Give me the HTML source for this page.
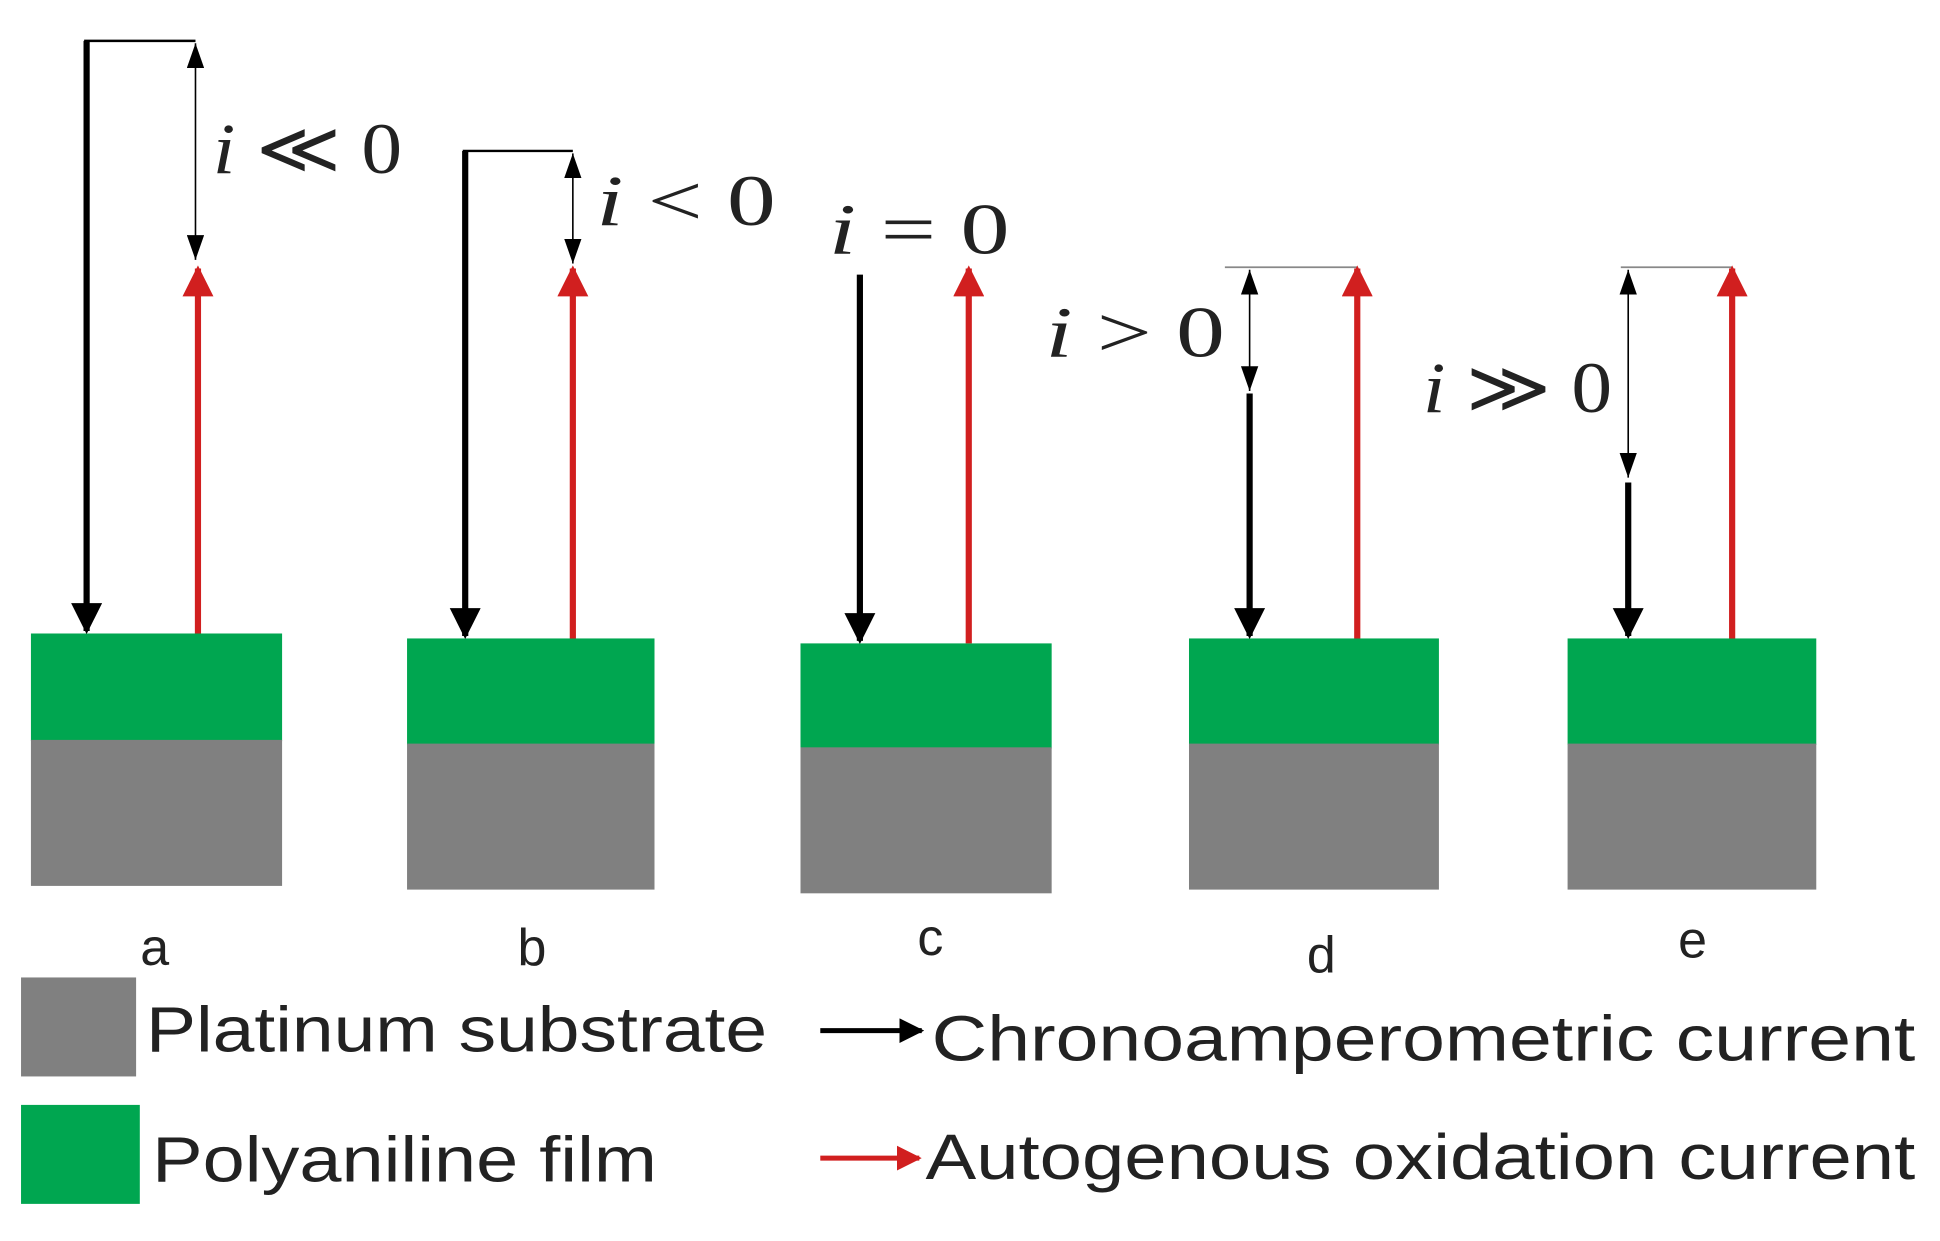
<!DOCTYPE html>
<html><head><meta charset="utf-8"><style>html,body{margin:0;padding:0;background:#fff}svg{display:block}</style></head><body>
<svg width="1940" height="1241" viewBox="0 0 1568 1003" preserveAspectRatio="none" xmlns="http://www.w3.org/2000/svg">
<defs>
<marker id="hb" markerWidth="5" markerHeight="5" refX="4.5" refY="2.5" orient="auto" markerUnits="strokeWidth"><path d="M0,0 L5,2.5 L0,5 Z" fill="#000"/></marker>
<marker id="hr" markerWidth="5" markerHeight="5" refX="4.5" refY="2.5" orient="auto" markerUnits="strokeWidth"><path d="M0,0 L5,2.5 L0,5 Z" fill="#d11f1f"/></marker>
<marker id="ht" markerWidth="20" markerHeight="14" refX="20" refY="7" orient="auto-start-reverse" markerUnits="userSpaceOnUse" viewBox="0 0 20 14"><path d="M0,0 L20,7 L0,14 Z" fill="#000"/></marker>
</defs>
<g fill="#00a650">
<rect x="25" y="512" width="203" height="87"/><rect x="329" y="516" width="200" height="86"/><rect x="647" y="520" width="203" height="85"/><rect x="961" y="516" width="202" height="86"/><rect x="1267" y="516" width="201" height="86"/>
</g>
<g fill="#808080">
<rect x="25" y="598" width="203" height="118"/><rect x="329" y="601" width="200" height="118"/><rect x="647" y="604" width="203" height="118"/><rect x="961" y="601" width="202" height="118"/><rect x="1267" y="601" width="201" height="118"/>
</g>
<g stroke="#000" stroke-width="5" fill="none">
<line x1="70" y1="33" x2="70" y2="510" marker-end="url(#hb)"/>
<line x1="376" y1="122" x2="376" y2="514" marker-end="url(#hb)"/>
<line x1="695" y1="222" x2="695" y2="518" marker-end="url(#hb)"/>
<line x1="1010" y1="318" x2="1010" y2="514" marker-end="url(#hb)"/>
<line x1="1316" y1="390" x2="1316" y2="514" marker-end="url(#hb)"/>
</g>
<g stroke="#000" stroke-width="2" fill="none">
<line x1="68" y1="33" x2="158" y2="33"/><line x1="374" y1="122" x2="463" y2="122"/>
</g>
<g stroke="#888" stroke-width="1.5"><line x1="990" y1="216" x2="1097" y2="216"/><line x1="1310" y1="216" x2="1400" y2="216"/></g>
<g stroke="#000" stroke-width="1.3">
<line x1="158" y1="35" x2="158" y2="210" marker-start="url(#ht)" marker-end="url(#ht)"/>
<line x1="463" y1="124" x2="463" y2="213" marker-start="url(#ht)" marker-end="url(#ht)"/>
<line x1="1010" y1="218" x2="1010" y2="316" marker-start="url(#ht)" marker-end="url(#ht)"/>
<line x1="1316" y1="218" x2="1316" y2="386" marker-start="url(#ht)" marker-end="url(#ht)"/>
</g>
<g stroke="#d11f1f" stroke-width="5">
<line x1="160" y1="512" x2="160" y2="217" marker-end="url(#hr)"/>
<line x1="463" y1="516" x2="463" y2="217" marker-end="url(#hr)"/>
<line x1="783" y1="520" x2="783" y2="217" marker-end="url(#hr)"/>
<line x1="1097" y1="516" x2="1097" y2="217" marker-end="url(#hr)"/>
<line x1="1400" y1="516" x2="1400" y2="217" marker-end="url(#hr)"/>
</g>
<g font-family="Liberation Serif, serif" font-size="58" fill="#222">
<text x="172" y="140" textLength="153" lengthAdjust="spacingAndGlyphs"><tspan font-style="italic">i</tspan> ≪ 0</text>
<text x="482" y="182" textLength="145" lengthAdjust="spacingAndGlyphs"><tspan font-style="italic">i</tspan> &lt; 0</text>
<text x="670" y="205" textLength="146" lengthAdjust="spacingAndGlyphs"><tspan font-style="italic">i</tspan> = 0</text>
<text x="845" y="288" textLength="145" lengthAdjust="spacingAndGlyphs"><tspan font-style="italic">i</tspan> &gt; 0</text>
<text x="1150" y="333" textLength="153" lengthAdjust="spacingAndGlyphs"><tspan font-style="italic">i</tspan> ≫ 0</text>
</g>
<g font-family="Liberation Sans, sans-serif" font-size="42" fill="#222" text-anchor="middle">
<text x="125" y="780">a</text><text x="430" y="780">b</text><text x="752" y="772">c</text><text x="1068" y="786">d</text><text x="1368" y="774">e</text>
</g>
<rect x="17" y="790" width="93" height="80" fill="#808080"/>
<rect x="17" y="893" width="96" height="80" fill="#00a650"/>
<g font-family="Liberation Sans Narrow, Liberation Sans, sans-serif" font-size="52" fill="#222">
<text x="118" y="850" textLength="502" lengthAdjust="spacingAndGlyphs">Platinum substrate</text>
<text x="123" y="955" textLength="408" lengthAdjust="spacingAndGlyphs">Polyaniline film</text>
<text x="753" y="857" textLength="795" lengthAdjust="spacingAndGlyphs">Chronoamperometric current</text>
<text x="748" y="953" textLength="800" lengthAdjust="spacingAndGlyphs">Autogenous oxidation current</text>
</g>
<line x1="663" y1="833" x2="745" y2="833" stroke="#000" stroke-width="4" marker-end="url(#hb)"/>
<line x1="663" y1="936" x2="743" y2="936" stroke="#d11f1f" stroke-width="4" marker-end="url(#hr)"/>
</svg>
</body></html>
